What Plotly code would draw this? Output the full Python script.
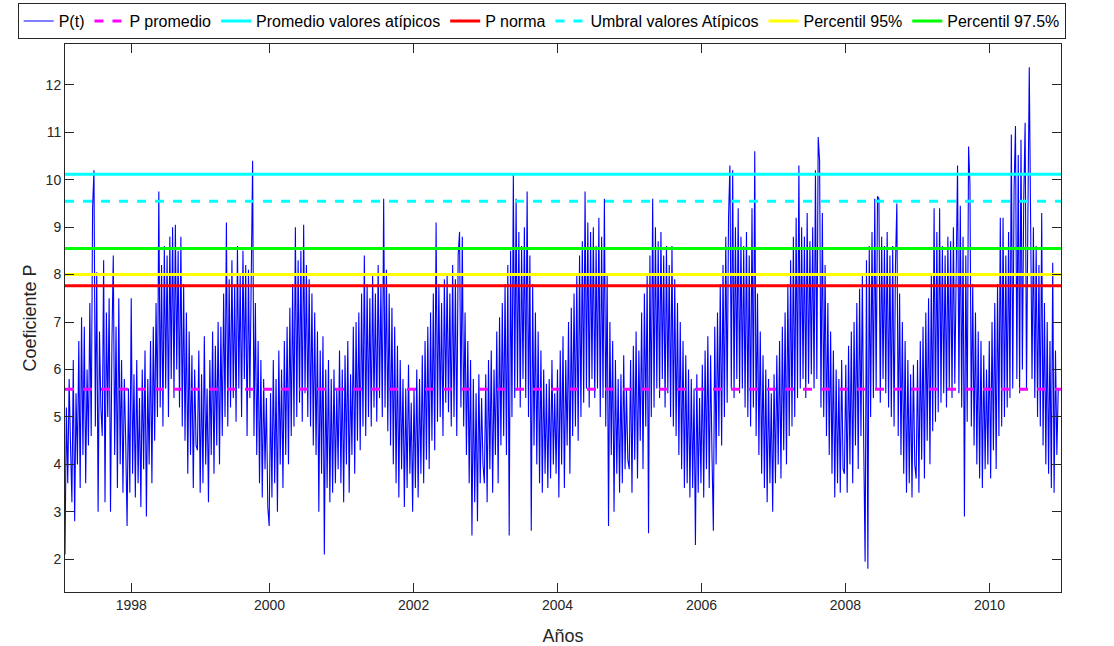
import pandas as pd
import plotly.graph_objects as go

# ---------------- data (weekly readings of P(t)) -------------
start_date = "1997-02-27"
end_date = "2010-12-30"

p_1997 = [2.1, 5.2, 3.6, 5.8, 4.4, 3.2, 6.2, 2.8, 5.5, 4.0, 6.6, 3.5, 7.1, 4.2,
          6.9, 3.6, 6.0, 4.4, 7.4, 4.6, 9.4, 10.2, 4.8, 8.05, 3.0, 6.8, 5.2,
          4.6, 8.3, 3.2, 7.2, 5.0, 7.5, 3.0, 6.5, 8.4, 4.2, 6.9, 3.5,
          7.5, 4.0, 6.2, 3.4, 5.8]
p_1998 = [4.5, 2.7, 5.6, 3.4, 7.5, 3.8, 5.9, 3.3, 6.2, 3.6, 5.4, 3.1, 6.0, 3.9, 6.4, 2.9,
          5.8, 4.0, 6.6, 3.6, 6.9, 4.5, 7.4, 5.0, 9.75, 5.2, 8.2, 4.8, 8.6, 5.6,
          8.4, 5.0, 8.8, 5.8, 9.0, 5.4, 9.05, 6.0, 8.5, 5.2, 8.8, 4.8, 7.8,
          4.5, 7.2, 3.8, 6.8, 4.2, 6.3, 3.5, 6.0, 4.4]
p_1999 = [4.3, 6.4, 3.4, 5.9, 3.6, 6.7, 4.0, 5.6, 3.2, 6.2, 4.2, 6.8, 3.8,
          6.5, 4.4, 7.0, 4.0, 6.9, 4.6, 7.6, 5.0, 9.1, 4.8, 7.9, 5.2,
          8.3, 5.4, 7.8, 4.9, 8.6, 5.6, 8.0, 5.0, 8.5, 5.8, 8.2, 4.6, 8.1,
          5.4, 8.6, 10.4, 4.6, 7.4, 4.2, 6.6, 3.6, 6.2, 3.3, 5.8, 3.9, 5.4, 3.1]
p_2000 = [2.7, 5.5, 3.3, 6.2, 3.6, 5.8, 3.0, 6.4, 4.0, 6.0, 3.5, 6.6, 4.2,
          6.9, 4.0, 7.3, 4.6, 7.8, 4.8, 9.0, 5.0, 8.3, 5.3, 8.5, 4.9,
          9.05, 5.5, 8.2, 5.0, 7.9, 4.8, 7.6, 4.4, 7.2, 4.2, 6.8, 3.0, 6.4,
          3.8, 6.7, 2.1, 6.0, 3.5, 6.2, 3.2, 5.8, 3.4, 6.0, 3.6, 5.6, 3.9, 6.4]
p_2001 = [3.6, 6.0, 3.2, 6.3, 4.0, 6.6, 3.4, 5.9, 4.2, 6.9, 3.8, 7.0, 4.5,
          7.2, 4.3, 7.6, 4.8, 8.4, 4.6, 7.8, 5.0, 7.5, 4.8, 8.0, 5.2,
          7.6, 4.9, 8.2, 5.4, 7.8, 5.0, 9.6, 5.2, 8.1, 4.7, 7.6, 4.4, 7.3,
          4.0, 6.9, 3.6, 6.5, 3.3, 6.2, 3.9, 5.8, 3.1, 5.6, 3.5, 6.1, 3.8, 5.3]
p_2002 = [3.0, 5.6, 3.5, 6.0, 3.3, 5.8, 3.8, 6.3, 3.6, 6.6, 4.1, 6.9, 3.9,
          7.2, 4.5, 7.6, 4.3, 9.1, 4.9, 7.8, 5.0, 7.4, 4.6, 7.9, 5.3,
          8.0, 5.1, 7.6, 4.8, 8.2, 5.0, 7.9, 4.6, 8.4, 8.9, 5.2, 8.8, 4.8,
          7.2, 4.2, 6.6, 3.6, 6.2, 2.5, 5.8, 3.2, 5.5, 2.8, 5.9, 3.6, 5.4, 4.0]
p_2003 = [3.6, 5.9, 3.2, 6.2, 3.9, 6.4, 3.4, 6.0, 4.2, 6.8, 3.6, 7.1, 4.4,
          7.4, 4.6, 7.8, 4.2, 8.2, 2.5, 8.5, 5.0, 10.1, 5.4, 9.6, 5.6,
          8.9, 5.2, 8.6, 5.8, 9.0, 5.4, 9.75, 5.0, 8.4, 2.6, 7.8, 4.4, 7.2,
          4.0, 6.8, 3.6, 6.4, 3.4, 6.0, 3.8, 5.7, 3.5, 5.8, 3.7, 6.2, 4.0, 5.5]
p_2004 = [3.8, 6.0, 3.3, 6.4, 4.0, 6.7, 3.5, 6.2, 4.4, 7.0, 3.8, 7.3, 4.6,
          7.6, 4.8, 8.0, 4.5, 8.4, 5.0, 8.7, 5.3, 9.75, 5.6, 9.1, 5.2,
          8.9, 5.8, 9.0, 5.4, 8.6, 5.6, 9.2, 5.0, 8.8, 5.4, 9.6, 4.8, 8.0,
          2.7, 7.0, 4.2, 6.6, 3.0, 6.2, 3.8, 5.8, 3.4, 5.9, 3.6, 6.3, 3.9, 5.6, 4.1]
p_2005 = [3.9, 6.2, 3.4, 6.5, 4.1, 6.8, 3.7, 6.4, 4.5, 7.2, 3.9, 7.6, 4.8,
          8.0, 2.55, 8.4, 5.0, 9.6, 5.2, 9.0, 5.6, 8.7, 5.4, 8.9, 5.8,
          8.4, 5.2, 8.6, 5.5, 8.2, 5.0, 8.6, 4.8, 7.9, 4.6, 7.4, 4.2, 7.0,
          3.9, 6.6, 3.5, 6.3, 3.6, 6.0, 3.3, 5.8, 3.5, 5.6, 2.3, 5.9, 3.4, 5.4]
p_2006 = [3.6, 6.1, 3.3, 6.4, 3.9, 6.7, 3.5, 6.3, 4.2, 2.6, 6.9, 4.0, 7.2,
          4.6, 7.8, 4.4, 8.2, 5.0, 8.8, 5.3, 9.2, 10.3, 5.6, 10.2, 5.4,
          9.0, 5.8, 9.4, 5.5, 8.8, 5.6, 8.6, 5.2, 8.9, 5.0, 8.4, 4.8, 9.4,
          5.2, 10.6, 4.6, 7.6, 4.2, 6.8, 3.8, 6.3, 3.5, 6.0, 3.2, 5.8, 3.6, 5.5]
p_2007 = [3.0, 5.9, 3.6, 6.3, 4.0, 6.6, 3.7, 6.9, 4.3, 7.2, 4.0, 7.8, 4.6,
          8.3, 4.8, 8.8, 5.0, 9.2, 5.4, 10.3, 5.6, 9.0, 5.8, 8.8, 5.4,
          9.3, 5.7, 8.7, 5.9, 9.0, 5.6, 10.2, 5.8, 10.9, 10.4, 5.2, 9.3, 5.0,
          8.2, 4.6, 7.4, 4.2, 6.8, 3.8, 6.4, 3.3, 6.0, 3.6, 5.8, 3.4, 6.2, 3.9]
p_2008 = [3.8, 6.1, 3.4, 6.5, 4.0, 6.8, 3.6, 7.0, 4.4, 7.4, 3.9, 7.7, 4.6,
          8.0, 4.4, 1.95, 8.3, 1.8, 8.6, 5.0, 8.9, 5.4, 9.6, 5.6, 9.65,
          9.6, 5.3, 8.8, 5.8, 8.6, 5.5, 8.9, 5.2, 8.4, 5.0, 8.6, 4.8, 8.2,
          9.5, 4.6, 7.6, 4.2, 7.0, 3.8, 6.6, 3.4, 6.2, 3.6, 5.9, 3.3, 6.1, 4.0]
p_2009 = [3.7, 6.2, 3.4, 6.6, 4.1, 6.9, 3.7, 7.2, 4.5, 7.5, 4.0, 8.0, 4.7,
          9.4, 4.9, 8.9, 5.1, 9.4, 5.3, 8.6, 5.5, 8.4, 5.2, 8.8, 5.6,
          8.7, 5.4, 9.0, 5.7, 8.6, 10.3, 5.5, 9.45, 5.2, 8.8, 2.9, 8.4, 4.9,
          10.7, 9.9, 4.8, 7.8, 4.4, 7.2, 4.0, 6.8, 3.7, 6.6, 3.5, 6.3, 3.9, 6.0]
p_2010 = [4.0, 6.6, 3.7, 7.0, 4.3, 7.4, 3.9, 7.8, 4.6, 9.2, 4.8, 9.2, 5.0,
          8.4, 5.2, 8.9, 5.4, 10.95, 5.6, 9.8, 11.13, 5.8, 10.52, 5.5, 10.84,
          6.0, 9.6, 11.2, 5.6, 9.2, 12.37, 9.05, 5.8, 9.0, 5.4, 8.6, 5.0, 8.2,
          4.8, 9.3, 4.4, 7.4, 4.0, 7.0, 3.8, 6.6, 3.5, 8.25, 3.4, 6.4, 4.2, 5.6]

p_values = (p_1997 + p_1998 + p_1999 + p_2000 + p_2001 + p_2002 + p_2003 +
            p_2004 + p_2005 + p_2006 + p_2007 + p_2008 + p_2009 + p_2010)
p_dates = pd.date_range(start_date, periods=len(p_values), freq="7D")

# reference levels
level_names = ["P promedio", "Promedio valores atípicos", "P norma",
               "Umbral valores Atípicos", "Percentil 95%", "Percentil 97.5%"]
level_values = [5.584, 10.117, 7.767, 9.548, 8.0, 8.549]
level_colors = ["#FF00FF", "#00FFFF", "#FF0000", "#00FFFF", "#FFFF00", "#00FF00"]
level_dash = ["9px,9px", "solid", "solid", "9px,9px", "solid", "solid"]

tick_dates = ["1998-01-29", "2000-01-01", "2002-01-01", "2004-01-01",
              "2006-01-01", "2008-01-01", "2010-01-01"]
tick_labels = ["1998", "2000", "2002", "2004", "2006", "2008", "2010"]

# ---------------- figure ----------------
FONT = "Liberation Sans, Arial, Helvetica, sans-serif"
AXC = "#262626"

fig = go.Figure()
fig.add_trace(go.Scatter(x=p_dates, y=p_values, mode="lines", name="P(t)",
                         line=dict(color="#0000FF", width=1.1)))
for nm, v, c, d in zip(level_names, level_values, level_colors, level_dash):
    fig.add_trace(go.Scatter(x=[start_date, end_date], y=[v, v], mode="lines",
                             name=nm, line=dict(color=c, width=3, dash=d)))

fig.update_layout(
    width=1114, height=646,
    margin=dict(l=65, r=53, t=44, b=54, autoexpand=False),
    paper_bgcolor="white", plot_bgcolor="white",
    font=dict(family=FONT, color=AXC),
    showlegend=True,
    legend=dict(orientation="h", x=-0.0475, xanchor="left", y=1.0745, yanchor="top",
                font=dict(family=FONT, size=16, color="#000000"),
                bordercolor=AXC, borderwidth=1, bgcolor="white",
                traceorder="normal", itemwidth=30),
)
fig.update_xaxes(type="date", range=[start_date, end_date], automargin=False,
                 tickmode="array", tickvals=tick_dates, ticktext=tick_labels,
                 ticks="inside", ticklen=9, tickcolor=AXC, tickwidth=1,
                 showline=True, linecolor=AXC, linewidth=1, mirror="ticks",
                 showgrid=False, zeroline=False,
                 tickfont=dict(size=14, color=AXC),
                 title=dict(text="Años", font=dict(size=18, color=AXC), standoff=18))
fig.update_yaxes(range=[1.31, 12.86], automargin=False, tickmode="array",
                 tickvals=[2, 3, 4, 5, 6, 7, 8, 9, 10, 11, 12],
                 ticks="inside", ticklen=9, tickcolor=AXC, tickwidth=1,
                 showline=True, linecolor=AXC, linewidth=1, mirror="ticks",
                 showgrid=False, zeroline=False,
                 tickfont=dict(size=14, color=AXC),
                 title=dict(text="Coeficiente P", font=dict(size=18, color=AXC), standoff=4))

fig.write_html("out.html")
